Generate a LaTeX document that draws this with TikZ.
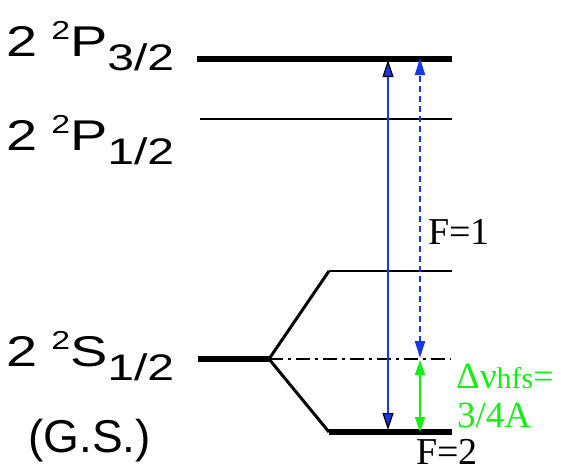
\documentclass[tikz,border=0pt]{standalone}
\usepackage{fontspec}
\setmainfont{Liberation Serif}
\newfontfamily\labfont{Liberation Sans}
\usetikzlibrary{arrows.meta}
\definecolor{myblue}{RGB}{25,55,230}
\definecolor{mygreen}{RGB}{20,240,20}
\newcommand{\lvlname}[3]{\scalebox{1.3}[1]{\labfont\fontsize{43}{43}\selectfont 2\hspace{0.25em}\raisebox{17pt}{\fontsize{26}{26}\selectfont 2}#1\raisebox{-14pt}{\fontsize{37}{37}\selectfont #2/#3}}}
\begin{document}
\begin{tikzpicture}[x=1pt,y=-1pt,
  thicklvl/.style={line width=6pt},
  thinlvl/.style={line width=2.5pt},
  diag/.style={line width=3pt},
  dashdotlvl/.style={line width=1.5pt,dash pattern=on 14pt off 5pt on 3pt off 5pt},
  solidarr/.style={myblue,line width=1.5pt,
    {Triangle[length=17pt,width=11pt,fill=myblue,color=black,line width=1.2pt]}-{Triangle[length=17pt,width=11pt,fill=myblue,color=black,line width=1.2pt]}},
  dasharr/.style={myblue,line width=2pt,dash pattern=on 6pt off 4pt,
    {Triangle[length=17pt,width=10pt]}-{Triangle[length=17pt,width=10pt]}},
  greenarr/.style={mygreen,line width=1.5pt,
    {Triangle[length=15pt,width=10pt]}-{Triangle[length=15pt,width=10pt]}},
  lab/.style={inner sep=0pt,anchor=base west},
  serif/.style={inner sep=0pt,anchor=base west,font=\fontsize{38}{38}\selectfont}
]
\useasboundingbox (0,0) rectangle (561,472);

% level end points
\coordinate (p3l) at (197,59);  \coordinate (p3r) at (452,59);
\coordinate (p1l) at (200,119); \coordinate (p1r) at (452,119);
\coordinate (sl) at (198,359);  \coordinate (sc) at (269,359); \coordinate (sr) at (451,359);
\coordinate (f1l) at (329,271); \coordinate (f1r) at (452,271);
\coordinate (f2l) at (329,432); \coordinate (f2r) at (452,432);

% arrow end points
\coordinate (ab) at (388,430); \coordinate (at) at (388,60);
\coordinate (db) at (420,358); \coordinate (dt) at (420,58);
\coordinate (gt) at (420,360); \coordinate (gb) at (420,432);

% levels
\draw[thicklvl] (p3l) -- (p3r);
\draw[thinlvl] (p1l) -- (p1r);
\draw[thicklvl] (sl) -- (sc);
\draw[diag] (sc) -- (f1l);
\draw[thinlvl] (f1l) -- (f1r);
\draw[diag] (sc) -- (f2l);
\draw[thicklvl] (f2l) -- (f2r);
\draw[dashdotlvl] (sc) -- (sr);

% arrows
\draw[solidarr] (ab) -- (at);
\draw[dasharr] (db) -- (dt);
\draw[greenarr] (gt) -- (gb);

% left labels
\node[lab] (lp3) at (6,56) {\lvlname{P}{3}{2}};
\node[lab] (lp1) at (6,150) {\lvlname{P}{1}{2}};
\node[lab] (ls) at (6,366) {\lvlname{S}{1}{2}};
\node[lab] (lgs) at (28,452) {\labfont\fontsize{46}{46}\selectfont (G.S.)};

% right labels
\node[serif] (lf1) at (428,244) {F=1};
\node[serif,text depth=0pt] (lf2) at (416,464) {F=2};
\node[lab,text=mygreen] (ldnu) at (456,388) {\fontsize{37}{37}\selectfont Δν\fontsize{30}{30}\selectfont hfs\fontsize{36}{36}\selectfont =};
\node[lab,text=mygreen] (la) at (457,427) {\fontsize{37}{37}\selectfont 3/4A};
\end{tikzpicture}
\end{document}
